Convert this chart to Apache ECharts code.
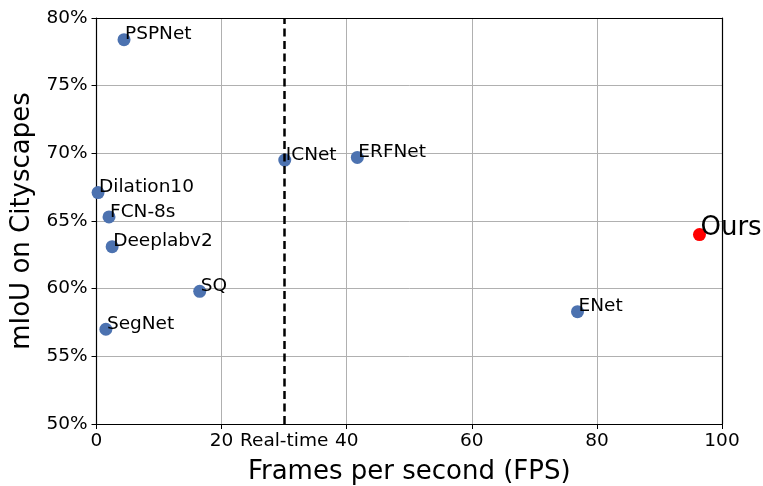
<!DOCTYPE html>
<html>
<head>
<meta charset="utf-8">
<script src="https://cdn.jsdelivr.net/npm/echarts@6/dist/echarts.min.js"></script>
<style>
  html, body { margin: 0; padding: 0; background: #fff; }
  #chart { width: 763px; height: 486px; }
</style>
</head>
<body>
<div id="chart"></div>
<script>
// other methods
const names = ['PSPNet', 'ICNet', 'ERFNet', 'Dilation10', 'FCN-8s', 'Deeplabv2', 'SQ', 'SegNet', 'ENet'];
const fps = [4.4, 30.1, 41.7, 0.25, 2.0, 2.5, 16.5, 1.5, 76.9];
const miou = [78.4, 69.5, 69.7, 67.1, 65.3, 63.1, 59.8, 57.0, 58.3];

// our method
const oursName = ['Ours'];
const oursFps = [96.4];
const oursMiou = [64.0];

const realTimeFps = 30;
const xTicks = [0, 20, 40, 60, 80, 100];
const yTicks = [50, 55, 60, 65, 70, 75, 80];

const font = 'DejaVu Sans';

const chart = echarts.init(document.getElementById('chart'));

function pointLabel(size) {
    return {
        show: true,
        position: [6.5, 6.5],
        align: 'left',
        verticalAlign: 'bottom',
        offset: [1, size * 0.24],
        formatter: p => p.data[2],
        color: '#000',
        fontFamily: font,
        fontSize: size,
    };
}

// plain black spine for top / right side
function spine(axisType, pos, ticks) {
    return {
        type: 'value',
        position: pos,
        min: ticks[0],
        max: ticks[ticks.length - 1],
        axisLine: { show: true, onZero: false, lineStyle: { color: '#000', width: 1.2 } },
        axisTick: { show: false },
        axisLabel: { show: false },
        splitLine: { show: false },
        z: 10,
    };
}

const option = {
    animation: false,
    grid: {
        left: 96.5,
        right: 41,
        top: 18,
        bottom: 62,
        outerBoundsMode: 'none',
    },
    xAxis: [{
        type: 'value',
        min: xTicks[0],
        max: xTicks[xTicks.length - 1],
        interval: 20,
        name: 'Frames per second (FPS)',
        nameLocation: 'middle',
        nameGap: 35,
        nameTextStyle: { fontFamily: font, fontSize: 26, color: '#000' },
        axisLine: { onZero: false, lineStyle: { color: '#000', width: 1.2 } },
        axisTick: { show: true, length: 5, lineStyle: { color: '#000' } },
        axisLabel: { color: '#000', fontFamily: font, fontSize: 18.5, margin: 8 },
        splitLine: { show: true, lineStyle: { color: '#b0b0b0', width: 1 } },
    }, spine('x', 'top', xTicks)],
    yAxis: [{
        type: 'value',
        min: yTicks[0],
        max: yTicks[yTicks.length - 1],
        interval: 5,
        name: 'mIoU on Cityscapes',
        nameLocation: 'middle',
        nameGap: 57,
        nameTextStyle: { fontFamily: font, fontSize: 26, color: '#000' },
        axisLine: { show: true, onZero: false, lineStyle: { color: '#000', width: 1.2 } },
        axisTick: { show: true, length: 5, lineStyle: { color: '#000' } },
        axisLabel: { color: '#000', fontFamily: font, fontSize: 18.5, margin: 9, formatter: '{value}%' },
        splitLine: { show: true, lineStyle: { color: '#b0b0b0', width: 1 } },
    }, spine('y', 'right', yTicks)],
    series: [
        {
            type: 'scatter',
            symbolSize: 13,
            itemStyle: { color: '#4c72b0', opacity: 1 },
            data: names.map((n, i) => [fps[i], miou[i], n]),
            label: pointLabel(18.5),
            emphasis: { disabled: true },
            markLine: {
                silent: true,
                symbol: 'none',
                lineStyle: { color: '#000', type: [8, 4.5], width: 2.5 },
                label: {
                    show: true,
                    position: 'start',
                    distance: 8,
                    formatter: 'Real-time',
                    color: '#000',
                    fontFamily: font,
                    fontSize: 18.5,
                },
                data: [{ xAxis: realTimeFps }],
            },
        },
        {
            type: 'scatter',
            symbolSize: 13,
            itemStyle: { color: '#ff0000', opacity: 1 },
            data: oursName.map((n, i) => [oursFps[i], oursMiou[i], n]),
            label: pointLabel(26),
            emphasis: { disabled: true },
        },
    ],
};

option && chart.setOption(option);
</script>
</body>
</html>
